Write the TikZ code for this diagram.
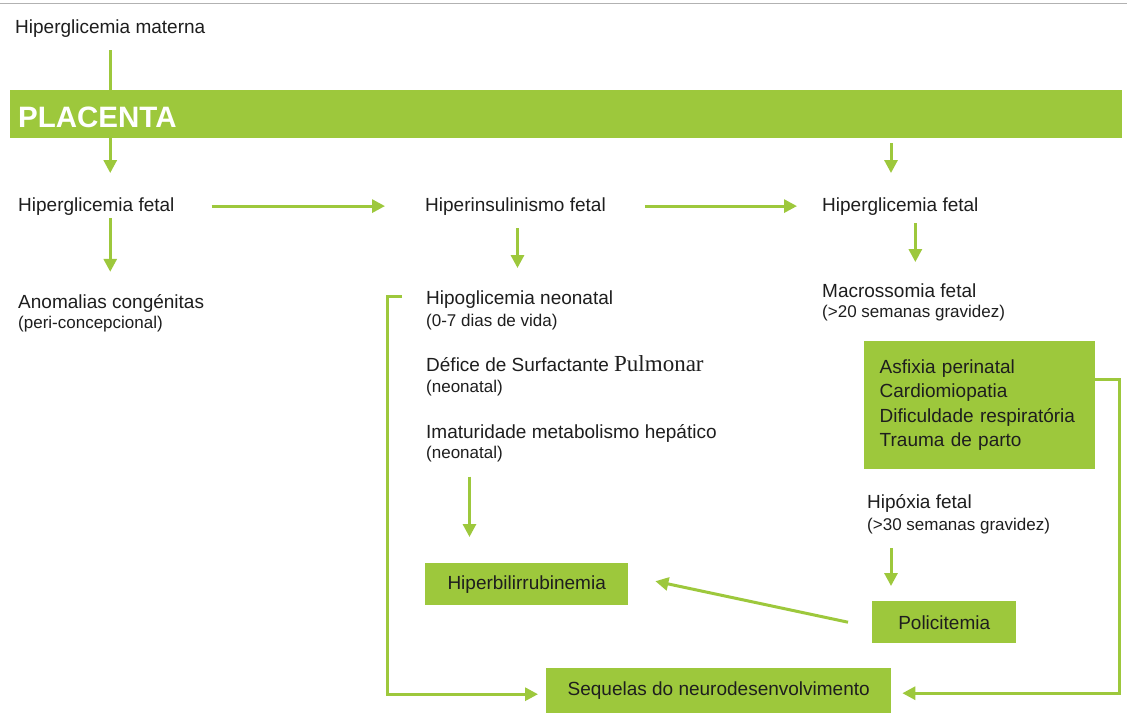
\documentclass[tikz,border=0pt]{standalone}
\usepackage{fontspec}
\setmainfont{Liberation Sans}
\newfontfamily\pserif{Liberation Serif}
\usetikzlibrary{arrows.meta,calc}
\definecolor{gr}{RGB}{157,200,60}
\definecolor{txtc}{RGB}{30,30,30}
\begin{document}
\begin{tikzpicture}[x=1pt,y=-1pt,
  txt/.style={anchor=base west, inner sep=0pt, text=txtc, font=\fontsize{19}{23}\selectfont},
  sub/.style={txt, font=\fontsize{17}{20}\selectfont},
  box/.style={fill=gr, draw=none, inner sep=0pt, anchor=north west, text=txtc, font=\fontsize{19}{23}\selectfont},
  conn/.style={draw=gr, line width=3pt},
  arr/.style={conn, -{Triangle[length=13pt,width=13pt]}}]
\useasboundingbox (0,0) rectangle (1127,713);
\fill[white] (0,0) rectangle (1127,713);
\draw[gray!60, line width=1pt] (0,3) -- (1127,3);

% nodes
\node[txt] (mat) at (15,33) {Hiperglicemia materna};
\node[box, minimum width=1112pt, minimum height=48pt] (plac) at (10,90) {};
\node[anchor=base west, inner sep=0pt, text=white, font=\fontsize{29.5}{30}\selectfont\bfseries] (pltxt) at (18,127) {PLACENTA};

\node[txt] (hf1) at (18,211) {Hiperglicemia fetal};
\node[txt] (hi) at (425,211) {Hiperinsulinismo fetal};
\node[txt] (hf2) at (822,211) {Hiperglicemia fetal};

\node[txt] (anom) at (18,308) {Anomalias congénitas};
\node[sub] (anom2) at (18,328) {(peri-concepcional)};

\node[txt] (hipo) at (426,304) {Hipoglicemia neonatal};
\node[sub] (hipo2) at (426,326) {(0-7 dias de vida)};
\node[txt] (def) at (426,371) {Défice de Surfactante {\pserif\fontsize{23}{24}\selectfont Pulmonar}};
\node[sub] (def2) at (426,392) {(neonatal)};
\node[txt] (ima) at (426,438) {Imaturidade metabolismo hepático};
\node[sub] (ima2) at (426,458) {(neonatal)};

\node[txt] (mac) at (822,297) {Macrossomia fetal};
\node[sub] (mac2) at (822,317) {(>20 semanas gravidez)};

\node[box, minimum width=231pt, minimum height=128pt, text width=200pt, align=left,
      font=\fontsize{19}{24.5}\selectfont, inner xsep=15.5pt] (asf) at (864,341)
  {Asfixia perinatal\\Cardiomiopatia\\Dificuldade respiratória\\Trauma de parto};

\node[txt] (hipox) at (867,508) {Hipóxia fetal};
\node[sub] (hipox2) at (867,530) {(>30 semanas gravidez)};

\node[box, minimum width=144pt, minimum height=42pt] (pol) at (872,601) {Policitemia};
\node[box, minimum width=203pt, minimum height=42pt] (hb) at (425,563) {Hiperbilirrubinemia};
\node[box, minimum width=345pt, minimum height=45pt] (seq) at (546,668) {Sequelas do neurodesenvolvimento};

% connectors
\draw[conn] ($(mat.south)+(0,13)$) -- (mat.south |- plac.north);
\draw[arr] (mat.south |- plac.south) -- ($(mat.south |- hf1.north)+(0,-24)$);
\draw[arr] ($(hf2.north west)+(69,-54)$) -- ($(hf2.north west)+(69,-24)$);
\draw[arr] ($(hf1.east)+(37,0)$) -- ($(hi.west)+(-40,0)$);
\draw[arr] ($(hi.east)+(39,0)$) -- ($(hf2.west)+(-25,0)$);
\draw[arr] ($(mat.south |- hf1.south)+(0,3)$) -- ($(mat.south |- anom.north)+(0,-22)$);
\draw[arr] ($(hi.south)+(2,13)$) -- ($(hi.south |- hipo.north)+(2,-22)$);
\draw[arr] ($(hf2.south)+(15,8)$) -- ($(hf2.south |- mac.north)+(15,-21)$);
\draw[arr] ($(ima2.south)+(5,15)$) -- ($(ima2.south |- hb.north)+(5,-26)$);
\draw[arr] ($(pol.north west)+(19,-53)$) -- ($(pol.north west)+(19,-15)$);
\draw[arr] ($(pol.west)+(-24,0)$) -- ($(hb.east)+(27,-3)$);
\draw[arr] ($(hipo.west)+(-24,-3)$) -- ++(-15,0) |- ($(seq.west)+(-8,3.5)$);
\draw[arr] ($(asf.north east)+(0,38)$) -- ++(24,0) |- ($(seq.east)+(11,2.5)$);
\end{tikzpicture}
\end{document}
